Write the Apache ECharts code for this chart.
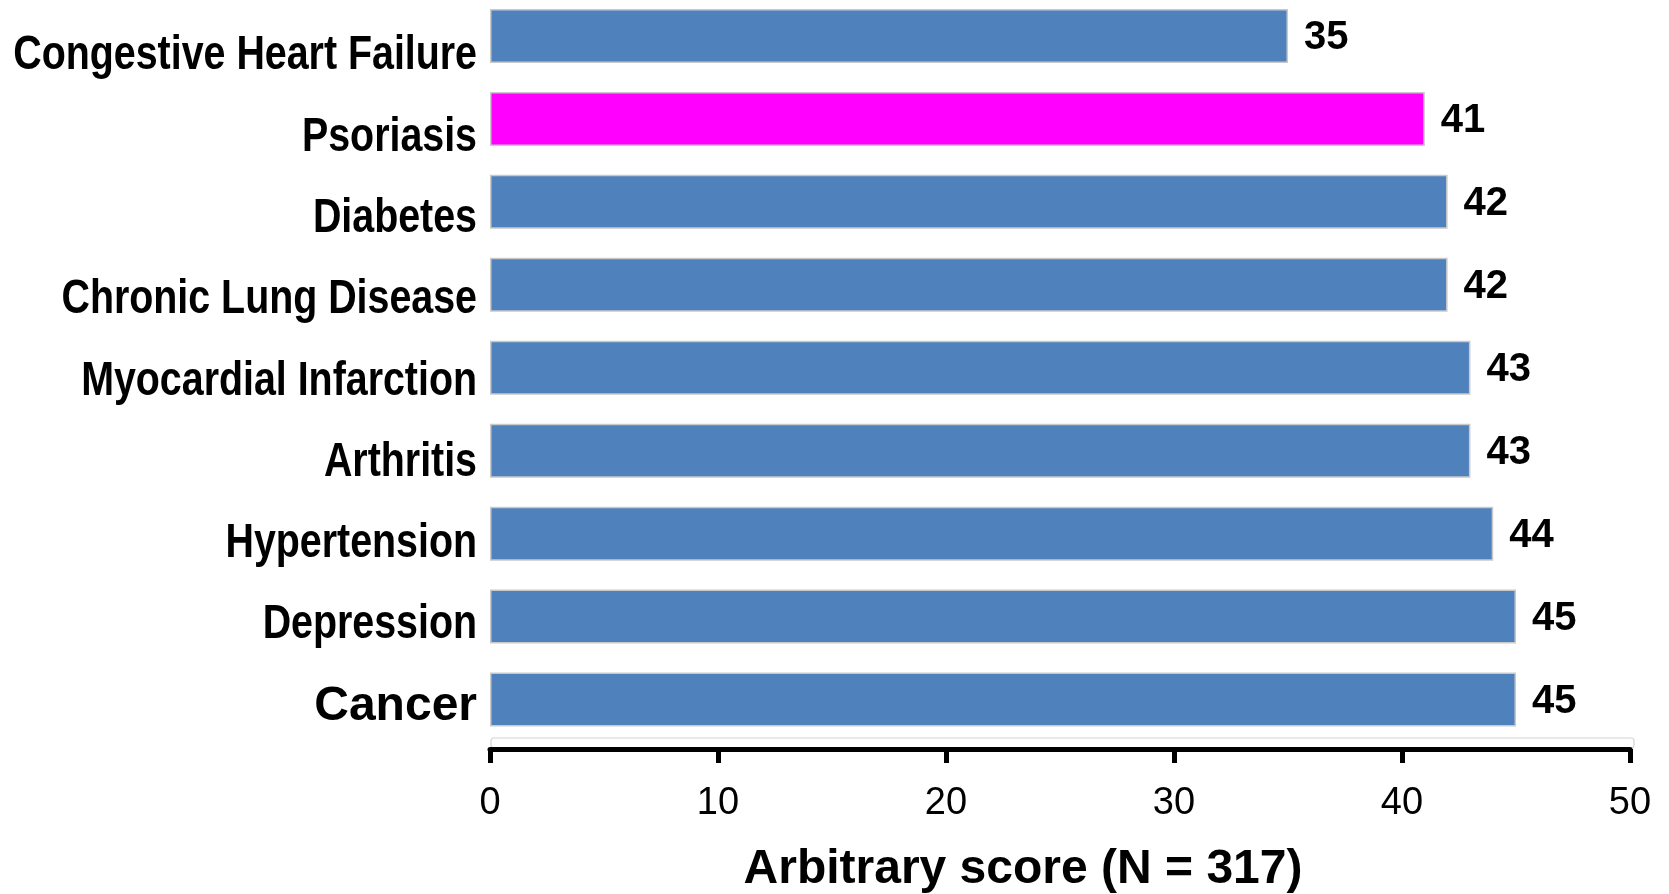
<!DOCTYPE html>
<html>
<head>
<meta charset="utf-8">
<script src="https://cdn.jsdelivr.net/npm/echarts@6/dist/echarts.min.js"></script>
<style>
  html, body { margin: 0; padding: 0; background: #fff; }
  #chart { width: 1669px; height: 894px; }
</style>
</head>
<body>
<div id="chart"></div>
<script>
// ---- data ----
const categories = [
  'Congestive Heart Failure', 'Psoriasis', 'Diabetes', 'Chronic Lung Disease',
  'Myocardial Infarction', 'Arthritis', 'Hypertension', 'Depression', 'Cancer'
];
const scores = [35, 41, 42, 42, 43, 43, 44, 45, 45];
const highlighted = ['Psoriasis'];
const xTicks = [0, 10, 20, 30, 40, 50];
const axisTitle = 'Arbitrary score (N = 317)';

// ---- styles ----
const SANS = '"Liberation Sans", Arial, sans-serif';
const NARROW_SCALE = 0.82;   // emulate Arial Narrow Bold by horizontally compressing Arial Bold
const BLUE = '#4F81BD';
const MAGENTA = '#FF00FF';

const chart = echarts.init(document.getElementById('chart'));
chart.setOption({
  animation: false,
  backgroundColor: '#ffffff',
  grid: [
    // bars
    { left: 490, right: 39, top: -5.5, bottom: 153, containLabel: false, outerBoundsMode: 'none' },
    // category label track (labels sit on a slightly tighter pitch than the bars)
    { left: 490, right: 39, top: 15.5, height: 731.7, containLabel: false, outerBoundsMode: 'none' }
  ],
  xAxis: [
    {
      type: 'value',
      gridIndex: 0,
      min: xTicks[0],
      max: xTicks[xTicks.length - 1],
      interval: xTicks[1] - xTicks[0],
      offset: 8,
      axisLine: { show: true, lineStyle: { color: '#000', width: 5 } },
      axisTick: { show: true, length: 14, lineStyle: { color: '#000', width: 5 } },
      splitLine: { show: false },
      axisLabel: { color: '#000', fontSize: 38, fontFamily: SANS, margin: 36 }
    },
    {
      type: 'value', gridIndex: 1, show: false,
      min: xTicks[0], max: xTicks[xTicks.length - 1]
    }
  ],
  yAxis: [
    {
      type: 'category',
      gridIndex: 0,
      inverse: true,
      data: categories,
      axisLine: { show: false },
      axisTick: { show: false },
      axisLabel: { show: false }
    },
    {
      type: 'category', gridIndex: 1, show: false, inverse: true, data: categories
    }
  ],
  graphic: [
    {
      type: 'rect',
      silent: true,
      z: 0,
      shape: { x: 491, y: 738, width: 1143, height: 10, r: 3 },
      style: { fill: 'none', stroke: '#d4d4d4', lineWidth: 1.2 }
    },
    {
      type: 'text',
      x: 1023,
      y: 870,
      style: {
        text: axisTitle,
        fill: '#000',
        font: 'bold 48px ' + SANS,
        align: 'center',
        verticalAlign: 'middle'
      }
    }
  ],
  series: [
    {
      type: 'bar',
      xAxisIndex: 0,
      yAxisIndex: 0,
      barWidth: 54,
      data: scores.map((v, i) => ({
        value: v,
        itemStyle: { color: highlighted.includes(categories[i]) ? MAGENTA : BLUE }
      })),
      itemStyle: { borderColor: '#c9c9c9', borderWidth: 1.5 },
      label: {
        show: true,
        position: 'right',
        distance: 16,
        offset: [0, 2],
        color: '#000',
        fontSize: 40,
        fontWeight: 'bold',
        fontFamily: SANS
      }
    },
    {
      // category labels, placed through the label-track category axis
      type: 'custom',
      xAxisIndex: 1,
      yAxisIndex: 1,
      clip: false,
      silent: true,
      z: 5,
      encode: { x: 0, y: 1 },
      data: categories.map((c, i) => [0, i]),
      renderItem: (params, api) => {
        const idx = api.value(1);
        const p = api.coord([0, idx]);
        const name = categories[idx];
        const isWide = name === 'Cancer';
        return {
          type: 'text',
          x: p[0] - 13,
          y: p[1],
          scaleX: isWide ? 1 : NARROW_SCALE,
          style: {
            text: name,
            fill: '#000',
            font: 'bold 48px ' + SANS,
            align: 'right',
            verticalAlign: 'middle'
          }
        };
      }
    }
  ]
});
</script>
</body>
</html>
